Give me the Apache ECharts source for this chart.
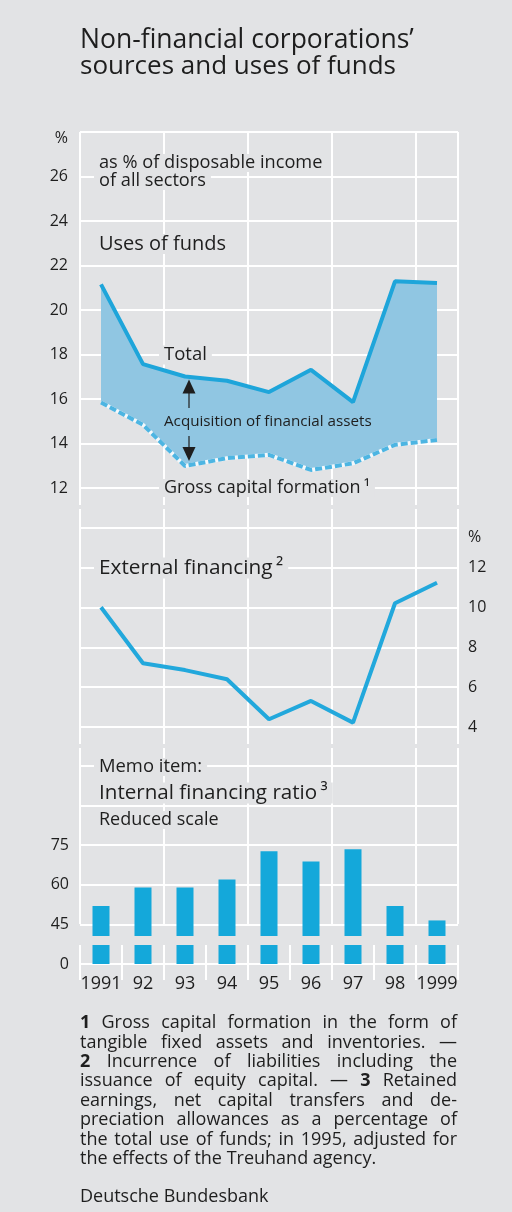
<!DOCTYPE html>
<html>
<head>
<meta charset="utf-8">
<script src="https://cdn.jsdelivr.net/npm/echarts@6/dist/echarts.min.js"></script>
<style>
  html, body { margin: 0; padding: 0; background: #e2e3e5; }
  #chart { width: 512px; height: 1212px; }
</style>
</head>
<body>
<div id="chart"></div>
<script>
// 年份
var years = ['1991', '92', '93', '94', '95', '96', '97', '98', '1999'];
// Uses of funds, % of disposable income
var usesTotal = [21.15, 17.57, 17.01, 16.82, 16.31, 17.31, 15.86, 21.29, 21.21];
var grossCapital = [15.84, 14.84, 12.99, 13.34, 13.49, 12.81, 13.11, 13.94, 14.16];
// External financing, %
var externalFin = [10.02, 7.2, 6.86, 6.4, 4.39, 5.31, 4.22, 10.22, 11.25];
// Internal financing ratio, % (reduced scale)
var internalRatio = [52, 59, 59, 62, 72.7, 68.8, 73.5, 52, 46.5];
// tick labels
var usesTicks = [12, 14, 16, 18, 20, 22, 24, 26];
var extTicks = [4, 6, 8, 10, 12];
var ratioTicks = { 30: '0', 45: '45', 60: '60', 75: '75' };

var footLines = [
  '1 Gross capital formation in the form of',
  'tangible fixed assets and inventories. \u2014',
  '2 Incurrence of liabilities including the',
  'issuance of equity capital. \u2014 3 Retained',
  'earnings, net capital transfers and de-',
  'preciation allowances as a percentage of',
  'the total use of funds; in 1995, adjusted for',
  'the effects of the Treuhand agency.'
];

var bg = '#e2e3e5';
var ink = '#1e1e1e';
var font = 'Open Sans';
var blue = '#1ea5da';

function drawChart() {
  var chart = echarts.init(document.getElementById('chart'), null, { renderer: 'canvas' });

  // band between gross capital formation and total
  var band = usesTotal.map(function (v, i) { return +(v - grossCapital[i]).toFixed(2); });

  var gridLine = { show: true, lineStyle: { color: '#ffffff', width: 2 } };
  var hidden = { show: false };

  // 只画竖线的辅助坐标系
  function vGrid(top, height) {
    return { left: 80, width: 378, top: top, height: height };
  }
  function vAxis(idx, step) {
    return {
      type: 'value', gridIndex: idx, min: 0, max: 9, interval: step,
      axisLine: hidden, axisTick: hidden, axisLabel: hidden,
      splitLine: gridLine
    };
  }
  function catAxis(idx, labels) {
    return {
      type: 'category', gridIndex: idx, data: years, boundaryGap: true,
      axisLine: hidden, axisTick: hidden, splitLine: hidden,
      axisLabel: labels ? {
        show: true, fontFamily: font, fontSize: 18, color: ink, margin: 11, interval: 0
      } : hidden
    };
  }

  var option = {
    backgroundColor: bg,
    animation: false,
    grid: [
      { left: 80, width: 378, top: 132, height: 356 },   // uses of funds
      { left: 80, width: 378, top: 528, height: 199 },   // external financing
      { left: 80, width: 378, top: 766, height: 198 },   // internal ratio
      vGrid(132, 373),
      vGrid(509, 235),
      vGrid(748, 176),
      vGrid(945, 35)
    ],
    xAxis: [
      catAxis(0, false),
      catAxis(1, false),
      catAxis(2, true),
      vAxis(3, 2),
      vAxis(4, 2),
      vAxis(5, 2),
      vAxis(6, 1)
    ],
    yAxis: [
      {
        type: 'value', gridIndex: 0, min: 12, max: 28, interval: 2,
        axisLine: hidden, axisTick: hidden, splitLine: gridLine,
        axisLabel: {
          fontFamily: font, fontSize: 16, color: ink, margin: 12,
          formatter: function (v) { return usesTicks.indexOf(v) >= 0 ? v : ''; }
        }
      },
      {
        type: 'value', gridIndex: 1, min: 4, max: 14, interval: 2, position: 'right',
        axisLine: hidden, axisTick: hidden, splitLine: gridLine,
        axisLabel: {
          fontFamily: font, fontSize: 16, color: ink, margin: 10,
          formatter: function (v) { return extTicks.indexOf(v) >= 0 ? v : ''; }
        }
      },
      {
        type: 'value', gridIndex: 2, min: 30, max: 105, interval: 15,
        axisLine: hidden, axisTick: hidden, splitLine: gridLine,
        axisLabel: {
          fontFamily: font, fontSize: 16, color: ink, margin: 11,
          formatter: function (v) { return ratioTicks[v] || ''; }
        }
      },
      { type: 'value', gridIndex: 3, show: false },
      { type: 'value', gridIndex: 4, show: false },
      { type: 'value', gridIndex: 5, show: false },
      { type: 'value', gridIndex: 6, show: false }
    ],
    series: [
      {
        name: 'base', type: 'line', xAxisIndex: 0, yAxisIndex: 0, stack: 'uses',
        data: grossCapital, symbol: 'none', lineStyle: { opacity: 0 }, z: 3
      },
      {
        name: 'Acquisition of financial assets', type: 'line', xAxisIndex: 0, yAxisIndex: 0,
        stack: 'uses', data: band, symbol: 'none',
        lineStyle: { opacity: 0 }, areaStyle: { color: '#90c6e2', opacity: 1 }, z: 3
      },
      {
        name: 'gross underlay', type: 'line', xAxisIndex: 0, yAxisIndex: 0,
        data: grossCapital, symbol: 'none',
        lineStyle: { color: '#f4f8fb', width: 4 }, z: 4
      },
      {
        name: 'Gross capital formation', type: 'line', xAxisIndex: 0, yAxisIndex: 0,
        data: grossCapital, symbol: 'none',
        lineStyle: { color: '#4db5e2', width: 4, type: [7, 3] }, z: 5
      },
      {
        name: 'Total', type: 'line', xAxisIndex: 0, yAxisIndex: 0,
        data: usesTotal, symbol: 'none',
        lineStyle: { color: blue, width: 4 }, z: 5
      },
      {
        name: 'External financing', type: 'line', xAxisIndex: 1, yAxisIndex: 1,
        data: externalFin, symbol: 'none',
        lineStyle: { color: '#22a8dc', width: 4 }, z: 5
      },
      {
        name: 'Internal financing ratio', type: 'bar', xAxisIndex: 2, yAxisIndex: 2,
        data: internalRatio, barWidth: 17,
        itemStyle: { color: '#14a8da' }, z: 3
      }
    ]
  };
  chart.setOption(option);

  // ---- 文字与标注 ----
  var g = [];
  function label(text, x, y, size, opts) {
    opts = opts || {};
    g.push({
      type: 'text', x: x, y: y, z: 20,
      style: {
        text: text, fontFamily: font, fontSize: size,
        fontWeight: opts.bold ? 'bold' : 'normal',
        fill: ink, align: opts.align || 'left', verticalAlign: 'middle',
        backgroundColor: opts.box ? bg : null,
        padding: opts.box ? [0, 5, 0, 5] : 0
      }
    });
  }

  label('Non-financial corporations\u2019', 80, 40, 26.5);
  label('sources and uses of funds', 80, 67, 26);
  label('%', 68, 138, 16, { align: 'right' });
  label('as % of disposable income', 94, 163, 18.2, { box: true });
  label('of all sectors', 94, 181, 18.2, { box: true });
  label('Uses of funds', 94, 244, 20, { box: true });
  label('Total', 159, 355, 18.5, { box: true });
  label('Acquisition of financial assets', 164, 422, 15.2);
  label('Gross capital formation\u2009\u00b9', 159, 488, 18, { box: true });
  label('%', 468, 537, 16);
  label('External financing\u2009\u00b2', 94, 568, 20.8, { box: true });
  label('Memo item:', 94, 767, 18.4, { box: true });
  label('Internal financing ratio\u2009\u00b3', 94, 793, 20.6, { box: true });
  label('Reduced scale', 94, 820, 18, { box: true });

  // arrows between total and gross capital formation (1993)
  var pTop = chart.convertToPixel({ gridIndex: 0 }, [2, usesTotal[2]]);
  var pBot = chart.convertToPixel({ gridIndex: 0 }, [2, grossCapital[2]]);
  var ax = pTop[0] + 4;
  var tipTop = pTop[1] + 3;
  var tipBot = pBot[1] - 5;
  g.push({ type: 'polygon', z: 20, shape: { points: [[ax, tipTop], [ax - 6.5, tipTop + 14], [ax + 6.5, tipTop + 14]] }, style: { fill: ink } });
  g.push({ type: 'line', z: 20, shape: { x1: ax, y1: tipTop + 12, x2: ax, y2: 408 }, style: { stroke: ink, lineWidth: 1.2 } });
  g.push({ type: 'line', z: 20, shape: { x1: ax, y1: 436, x2: ax, y2: tipBot - 12 }, style: { stroke: ink, lineWidth: 1.2 } });
  g.push({ type: 'polygon', z: 20, shape: { points: [[ax, tipBot], [ax - 6.5, tipBot - 14], [ax + 6.5, tipBot - 14]] }, style: { fill: ink } });

  // axis break of the reduced scale
  var breakLow = 37.2, breakHigh = 40.6;
  var yLow = chart.convertToPixel({ yAxisIndex: 2 }, breakLow);
  var yHigh = chart.convertToPixel({ yAxisIndex: 2 }, breakHigh);
  g.push({ type: 'rect', z: 15, shape: { x: 78, y: yHigh, width: 382, height: yLow - yHigh }, style: { fill: bg } });

  // footnotes, justified word by word
  var ctx = document.createElement('canvas').getContext('2d');
  var fs = 18, fx = 80, fw = 377, fy = 1023, lh = 19.45;
  footLines.forEach(function (line, li) {
    var words = line.split(' ');
    var widths = words.map(function (w) {
      var bold = /^[123]$/.test(w);
      ctx.font = (bold ? 'bold ' : '') + fs + 'px "' + font + '"';
      return ctx.measureText(w).width;
    });
    var sum = widths.reduce(function (a, b) { return a + b; }, 0);
    var last = li === footLines.length - 1;
    ctx.font = fs + 'px "' + font + '"';
    var gap = last ? ctx.measureText(' ').width : (fw - sum) / (words.length - 1);
    var x = fx;
    words.forEach(function (w, wi) {
      label(w, x, fy + li * lh, fs, { bold: /^[123]$/.test(w) });
      x += widths[wi] + gap;
    });
  });
  label('Deutsche Bundesbank', 80, 1197, 18);

  chart.setOption({ graphic: g });
}

drawChart();
</script>
</body>
</html>
